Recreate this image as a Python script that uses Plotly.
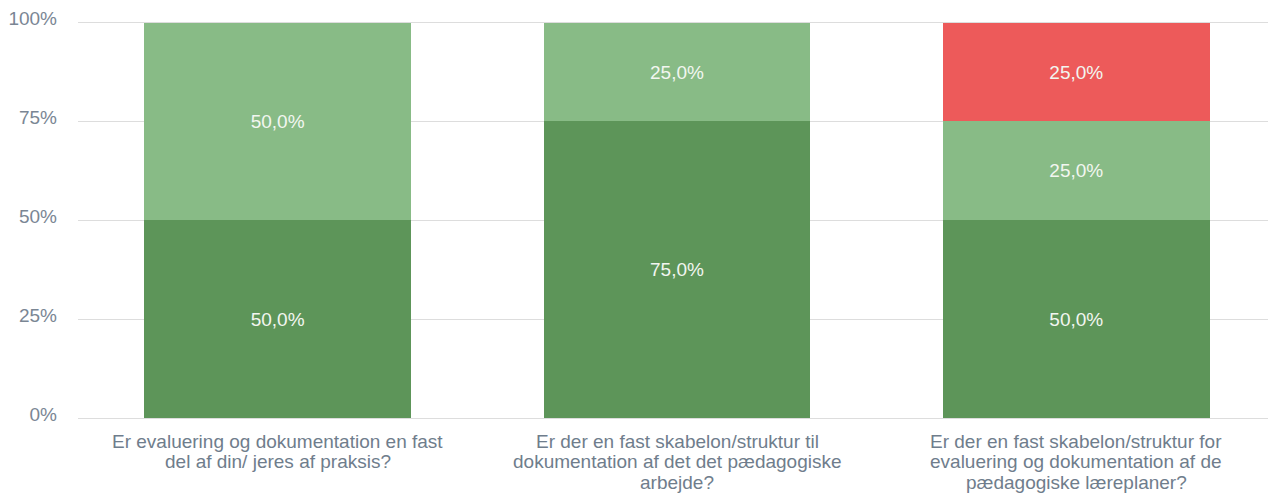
import plotly.graph_objects as go

categories = [
    "Er evaluering og dokumentation en fast<br>del af din/ jeres af praksis?",
    "Er der en fast skabelon/struktur til<br>dokumentation af det det pædagogiske<br>arbejde?",
    "Er der en fast skabelon/struktur for<br>evaluering og dokumentation af de<br>pædagogiske læreplaner?",
]
ja = [50, 75, 50]
delvist = [50, 25, 25]
nej = [0, 0, 25]
y_ticks = [0, 25, 50, 75, 100]
y_tick_labels = ["0%", "25%", "50%", "75%", "100%"]

series = [
    ("Ja", ja, "#5d9559"),
    ("Delvist", delvist, "#88bb86"),
    ("Nej", nej, "#ed5a5a"),
]

FONT = "Liberation Sans, Arial, sans-serif"

fig = go.Figure()
for name, vals, color in series:
    fig.add_trace(go.Bar(
        x=categories, y=vals, name=name,
        marker=dict(color=color, line=dict(width=0)),
        text=[(f"{v:.1f}%".replace(".", ",") if v > 0 else "") for v in vals],
        textposition="inside", insidetextanchor="middle",
        textfont=dict(color="#f2f6f0", size=19, family=FONT),
        hoverinfo="skip",
    ))

# category labels, one annotation per line for tighter line spacing
for cat in categories:
    for i, line in enumerate(cat.split("<br>")):
        fig.add_annotation(
            x=cat, y=0, xref="x", yref="y", text=line, showarrow=False,
            xanchor="center", yanchor="middle", yshift=-(23 + 20.5 * i),
            font=dict(size=19, color="#6f7d8c", family=FONT),
        )

fig.update_layout(
    barmode="stack",
    bargap=0.333,
    width=1268, height=494,
    margin=dict(l=70, r=0, t=13, b=84, autoexpand=False),
    paper_bgcolor="white", plot_bgcolor="white",
    showlegend=False,
    font=dict(family=FONT, size=19, color="#7a8694"),
)
fig.update_yaxes(
    range=[0, 100.4], tickvals=y_ticks, ticktext=y_tick_labels,
    showgrid=True, gridcolor="#dddddd", gridwidth=1,
    zeroline=True, zerolinecolor="#dddddd", zerolinewidth=1,
    showline=False, ticks="", ticklabelstandoff=20, ticklabelshift=-4,
    ticklabeloverflow="allow",
    automargin=False,
    tickfont=dict(size=19, color="#7a8694"),
)
fig.update_xaxes(
    showgrid=False, showline=False, ticks="", showticklabels=False,
    automargin=False,
)
fig.write_html("out.html")
